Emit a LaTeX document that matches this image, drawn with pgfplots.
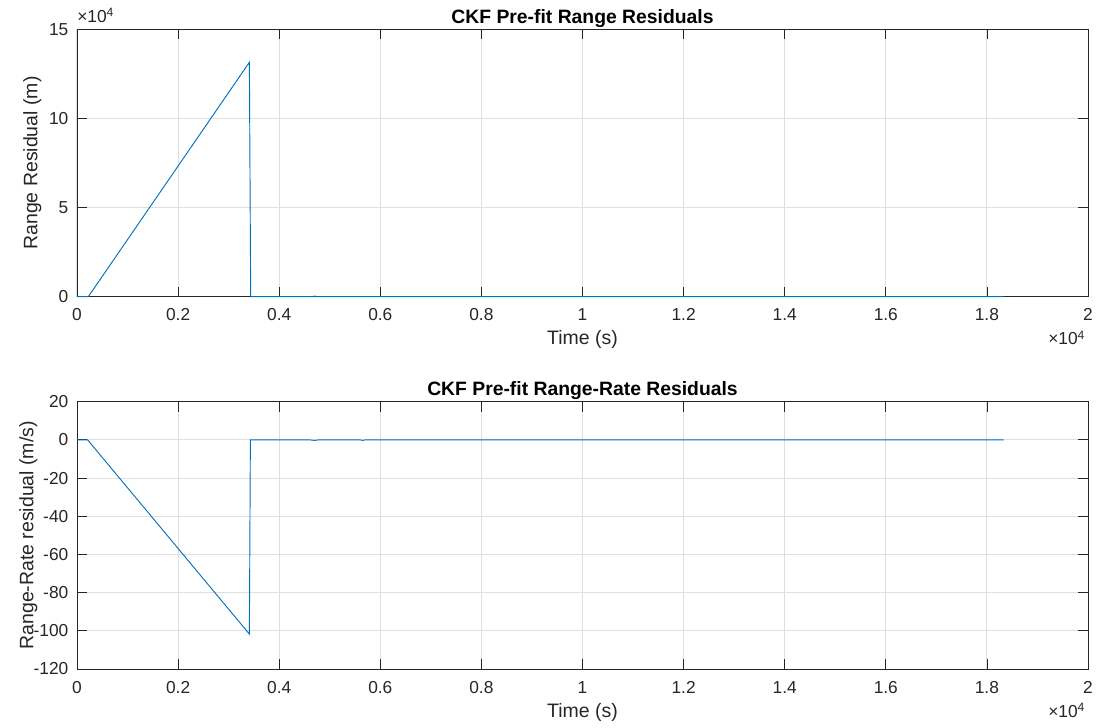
\documentclass[border=0pt]{standalone}
\usepackage{fontspec}
\setmainfont{Liberation Sans}
\usepackage{pgfplots}
\pgfplotsset{compat=1.18}
\definecolor{mblue}{RGB}{0,114,189}
\definecolor{mgrid}{RGB}{223,223,223}
\definecolor{maxis}{RGB}{38,38,38}
\newcommand\tickfont{\fontsize{13}{15}\selectfont}
\newcommand\labfont{\fontsize{14.6}{17}\selectfont}
\newcommand\titfont{\fontsize{14.5}{17}\selectfont\bfseries}
\pgfplotsset{
  mstyle/.style={
    scale only axis, width=758.25pt, height=200.5pt,
    anchor=south west,
    xmin=0, xmax=20000,
    xtick={0,2000,4000,6000,8000,10000,12000,14000,16000,18000,20000},
    xticklabels={0,0.2,0.4,0.6,0.8,1,1.2,1.4,1.6,1.8,2},
    scaled ticks=false,
    /pgf/number format/assume math mode=true,
    grid=major,
    major grid style={mgrid, line width=0.75pt},
    axis line style={maxis, line width=0.6pt},
    major tick style={maxis, line width=0.6pt},
    major tick length=7.5pt,
    tick align=inside,
    ticklabel style={font=\tickfont, text=maxis},
    xticklabel style={anchor=base, yshift=-18pt},
    yticklabel style={xshift=-3pt},
    xlabel style={font=\labfont, text=maxis, at={(axis description cs:0.5,0)}, anchor=base, yshift=-36.2pt},
    title style={font=\titfont, text=black, at={(axis description cs:0.5,1)}, anchor=base, yshift=-1.5pt},
  }
}
\begin{document}
\begin{tikzpicture}[x=1pt,y=1pt]
\path[use as bounding box] (0,0) rectangle (825,-546);
% Top axis
\begin{axis}[mstyle,
  at={(57.75pt,-222.5pt)},
  ymin=0, ymax=150000,
  ytick={0,50000,100000,150000},
  yticklabels={0,5,10,15},
  title={CKF Pre-fit Range Residuals},
  xlabel={Time (s)},
  ylabel={Range Residual (m)},
  ylabel style={font=\labfont, text=maxis, at={(axis description cs:0,0.5)}, anchor=base, yshift=29.8pt},
  clip=false,
]
\addplot[mblue, line width=0.7pt, mark=none] coordinates {
(0,0) (224,0) (3410,131500) (3436,0) (4650,0) (4700,300) (4750,0) (18330,0)
};
\node[font=\tickfont, text=maxis, anchor=base west, inner sep=0pt] at (rel axis cs:0,1) [yshift=5pt] {×10\textsuperscript{4}};
\node[font=\tickfont, text=maxis, anchor=base east, inner sep=0pt] at (rel axis cs:1,0) [yshift=-36.2pt, xshift=-2pt] {×10\textsuperscript{4}};
\end{axis}
% Bottom axis
\begin{axis}[mstyle,
  at={(57.75pt,-501.75pt)},
  ymin=-120, ymax=20,
  ytick={-120,-100,-80,-60,-40,-20,0,20},
  yticklabels={-120,-100,-80,-60,-40,-20,0,20},
  title={CKF Pre-fit Range-Rate Residuals},
  xlabel={Time (s)},
  ylabel={Range-Rate residual (m/s)},
  ylabel style={font=\labfont, text=maxis, at={(axis description cs:0,0.5)}, anchor=base, yshift=32.8pt},
  clip=false,
]
\addplot[mblue, line width=0.7pt, mark=none] coordinates {
(0,0) (210,0) (3410,-101.7) (3430,0) (4600,0) (4700,-0.3) (4780,0) (5600,0) (5650,-0.3) (5700,0) (18330,0)
};
\node[font=\tickfont, text=maxis, anchor=base east, inner sep=0pt] at (rel axis cs:1,0) [yshift=-36.2pt, xshift=-2pt] {×10\textsuperscript{4}};
\end{axis}
\end{tikzpicture}
\end{document}
